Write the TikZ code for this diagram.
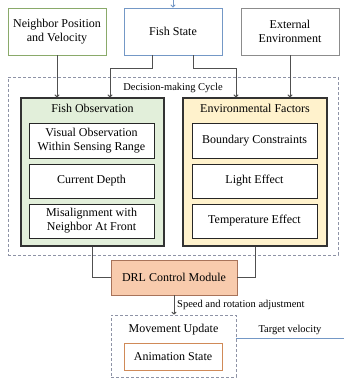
\documentclass[tikz,border=0pt]{standalone}
\usepackage{fontspec}
\setmainfont{Liberation Serif}
\usetikzlibrary{arrows.meta,calc}
\definecolor{nbrgreen}{HTML}{8AAA6A}
\definecolor{fishblue}{HTML}{7498C6}
\definecolor{extgrey}{HTML}{8C8C8C}
\definecolor{obsfill}{HTML}{E2EFDA}
\definecolor{envfill}{HTML}{FFF2CC}
\definecolor{drlfill}{HTML}{F8CBAD}
\definecolor{drlline}{HTML}{A8735A}
\definecolor{animline}{HTML}{D08A58}
\definecolor{dashgrey}{HTML}{8E93A6}
\definecolor{wire}{HTML}{505050}
\tikzset{
  x=1pt, y=-1pt,
  every node/.style={font=\fontsize{12}{14}\selectfont, inner sep=0pt, align=center},
  srcbox/.style={draw, line width=0.9pt, fill=white, minimum width=98pt, minimum height=47pt},
  groupbox/.style={draw=black!80, line width=1.1pt, minimum width=143pt, minimum height=148pt},
  itembox/.style={draw=black!85, line width=0.9pt, fill=white, minimum width=125pt, minimum height=34pt},
  dashbox/.style={draw=dashgrey, dashed, dash pattern=on 3pt off 2pt, line width=0.8pt},
  smalltext/.style={font=\fontsize{10.5}{12}\selectfont},
  wireline/.style={draw=wire, line width=1pt},
  arr/.style={wireline, -{To[length=3pt,width=5pt]}},
}
\begin{document}
\begin{tikzpicture}
\useasboundingbox (0,0) rectangle (344,383);

% input sources
\node[srcbox, draw=nbrgreen] (nbr) at (57,31.5) {Neighbor Position\\and Velocity};
\node[srcbox, draw=fishblue] (fish) at (173,31.5) {Fish State};
\node[srcbox, draw=extgrey] (ext) at (290,31.5) {External\\Environment};
\coordinate (fishin) at (173,0);
\draw[draw=fishblue, line width=0.9pt, -{To[length=3pt,width=5pt]}] (fishin) -- (fish.north);

% decision-making cycle
\node[dashbox, minimum width=330pt, minimum height=178pt] (cycle) at (173,166) {};
\node[smalltext] (cyclelbl) at (173,88) {Decision-making Cycle};

\node[groupbox, fill=obsfill] (obs) at (92.5,172) {};
\node (obst) at (92.5,108) {Fish Observation};
\node[itembox, minimum height=35pt] (vis) at (91.5,140.5) {Visual Observation\\Within Sensing Range};
\node[itembox] (depth) at (91.5,181) {Current Depth};
\node[itembox] (mis) at (91.5,221) {Misalignment with\\Neighbor At Front};

\node[groupbox, fill=envfill, minimum width=144pt] (env) at (255,172) {};
\node (envt) at (255,108) {Environmental Factors};
\node[itembox, minimum height=35pt] (bnd) at (254.5,140.5) {Boundary Constraints};
\node[itembox] (light) at (254.5,181) {Light Effect};
\node[itembox] (temp) at (254.5,221) {Temperature Effect};

% inputs into the cycle
\draw[arr] (nbr.south) -- (nbr.south |- obs.north);
\draw[arr] ([xshift=-21pt]fish.south) -- ++(0,13) -| ([xshift=17.5pt]obs.north);
\draw[arr] ([xshift=20pt]fish.south) -- ++(0,13) -| ([xshift=-19pt]env.north);
\draw[arr] (ext.south) -- (ext.south |- env.north);

% controller
\node[draw=drlline, line width=0.9pt, fill=drlfill, minimum width=126pt, minimum height=35pt] (drl) at (174,277.5) {DRL Control Module};
\draw[wireline] (obs.south) |- (drl.west);
\draw[wireline] (env.south) |- (drl.east);

% movement update
\node[dashbox, minimum width=125pt, minimum height=62pt] (move) at (173.5,346) {};
\node (movet) at (173.5,330) {Movement Update};
\node[draw=animline, line width=0.9pt, fill=white, minimum width=98pt, minimum height=27pt] (anim) at (173,356.5) {Animation State};

\draw[arr] (drl.south) -- (drl.south |- move.north);
\node[smalltext, anchor=west] (spd) at (177,305) {Speed and rotation adjustment};

\coordinate (tv) at (344,338);
\draw[draw=fishblue, line width=0.9pt] (move.east |- tv) -- (tv);
\node[smalltext] (tvl) at (290,330) {Target velocity};
\end{tikzpicture}
\end{document}
